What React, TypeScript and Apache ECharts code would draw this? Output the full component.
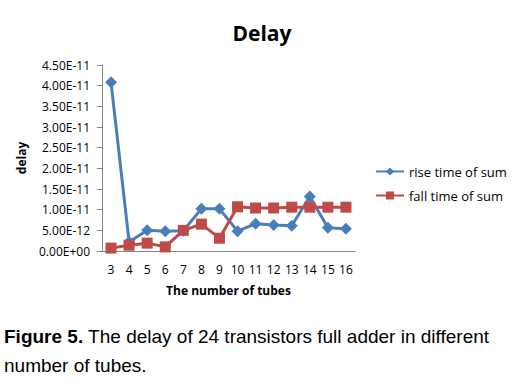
import React, { useEffect, useRef } from "react";
import * as echarts from "echarts";

const categories = ["3", "4", "5", "6", "7", "8", "9", "10", "11", "12", "13", "14", "15", "16"];
const riseTime = [4.08e-11, 2.2e-12, 5.0e-12, 4.8e-12, 4.9e-12, 1.02e-11, 1.02e-11, 4.8e-12, 6.6e-12, 6.3e-12, 6.1e-12, 1.32e-11, 5.6e-12, 5.4e-12];
const fallTime = [7e-13, 1.4e-12, 1.9e-12, 1.0e-12, 5.0e-12, 6.5e-12, 3.1e-12, 1.07e-11, 1.04e-11, 1.04e-11, 1.06e-11, 1.06e-11, 1.06e-11, 1.06e-11];
const seriesNames = ["rise time of sum", "fall time of sum"];

const FONT = "'Open Sans', 'Liberation Sans', sans-serif";
const CAPTION_FONT = "'Liberation Sans', Arial, sans-serif";

function fmt(v: number): string {
  const s = v.toExponential(2);
  const [m, e] = s.split("e");
  const sign = e[0] === "-" ? "-" : "+";
  const d = e.replace(/^[+-]/, "").padStart(2, "0");
  return `${m}E${sign}${d}`;
}

export default function App() {
  const ref = useRef<HTMLDivElement>(null);
  useEffect(() => {
    const chart = echarts.init(ref.current!, null, { renderer: "svg" });
    chart.setOption({
      animation: false,
      backgroundColor: "#ffffff",
      title: {
        text: "Delay",
        left: 257,
        textAlign: "center",
        top: 17,
        textStyle: { fontFamily: FONT, fontSize: 21, fontWeight: "bold", color: "#000" },
      },
      grid: { left: 102, top: 65, width: 253, height: 186, containLabel: false },
      legend: {
        orient: "vertical",
        left: 370,
        top: 160,
        itemWidth: 28,
        itemHeight: 10,
        itemGap: 11,
        textStyle: { fontFamily: FONT, fontSize: 13, color: "#000" },
        data: seriesNames,
      },
      xAxis: {
        type: "category",
        data: categories,
        boundaryGap: true,
        name: "The number of tubes",
        nameLocation: "middle",
        nameGap: 33,
        nameTextStyle: { fontFamily: FONT, fontSize: 12, fontWeight: "bold", color: "#000" },
        axisLine: { lineStyle: { color: "#868686" } },
        axisTick: { show: false },
        axisLabel: { fontFamily: FONT, fontSize: 12, color: "#000", margin: 12, interval: 0 },
        splitLine: { show: false },
      },
      yAxis: {
        type: "value",
        min: 0,
        max: 4.5e-11,
        interval: 5e-12,
        name: "delay",
        nameLocation: "middle",
        nameGap: 75,
        nameTextStyle: { fontFamily: FONT, fontSize: 12, fontWeight: "bold", color: "#000" },
        axisLine: { show: true, lineStyle: { color: "#868686" } },
        axisTick: { show: true, length: 5, lineStyle: { color: "#868686" } },
        axisLabel: { fontFamily: FONT, fontSize: 12, color: "#000", margin: 12, formatter: (v: number) => fmt(v) },
        splitLine: { show: false },
      },
      series: [
        {
          name: seriesNames[0],
          type: "line",
          data: riseTime,
          symbol: "diamond",
          symbolSize: 12,
          color: "#4a7ebb",
          lineStyle: { width: 3, color: "#4a7ebb" },
          itemStyle: { color: "#4a7ebb" },
        },
        {
          name: seriesNames[1],
          type: "line",
          data: fallTime,
          symbol: "rect",
          symbolSize: 11,
          color: "#be4b48",
          lineStyle: { width: 3, color: "#be4b48" },
          itemStyle: { color: "#be4b48" },
        },
      ],
      graphic: [
        {
          type: "text",
          left: 4,
          top: 322,
          style: {
            text: "{b|Figure 5.} The delay of 24 transistors full adder in different\nnumber of tubes.",
            fontFamily: CAPTION_FONT,
            fontSize: 19,
            lineHeight: 29,
            fill: "#000",
            rich: {
              b: { fontFamily: CAPTION_FONT, fontSize: 19, fontWeight: "bold", fill: "#000", lineHeight: 29 },
            },
          },
        },
      ],
    });
    return () => chart.dispose();
  }, []);
  return (
    <div
      ref={ref}
      style={{ position: "fixed", left: 0, top: 0, width: 532, height: 389, background: "#fff" }}
    />
  );
}
